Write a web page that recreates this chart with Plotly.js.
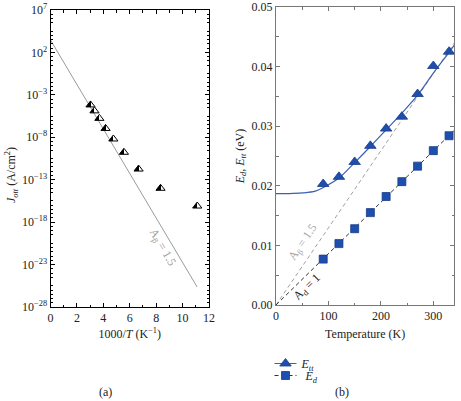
<!DOCTYPE html>
<html>
<head>
<meta charset="utf-8">
<script src="https://cdn.plot.ly/plotly-3.0.1.min.js"></script>
<style>html,body{margin:0;padding:0;background:#fff;}#chart{width:461px;height:401px;}</style>
</head>
<body>
<div id="chart"></div>
<script>
// ---- (a) data: 1000/T vs J_ott ----
const invT = [3.03, 3.33, 3.70, 4.17, 4.76, 5.56, 6.67, 8.33, 11.11];
const Jott = [6.5e-5, 1.3e-5, 1.7e-6, 1.1e-7, 6.3e-9, 1.7e-10, 1.8e-12, 9.8e-15, 7.9e-17];
const fitA_x = [0, 11.1];
const fitA_J = [2.9e3, 2.3e-26];
const logTickVals = [1e7, 1e2, 1e-3, 1e-8, 1e-13, 1e-18, 1e-23, 1e-28];
const logTickText = ['10<sup>7</sup>', '10<sup>2</sup>', '10<sup>−3</sup>', '10<sup>−8</sup>',
  '10<sup>−13</sup>', '10<sup>−18</sup>', '10<sup>−23</sup>', '10<sup>−28</sup>'];

// ---- (b) data: Temperature vs energies ----
const temps = [90, 120, 150, 180, 210, 240, 270, 300, 330];
const Ett = [0.0203, 0.0215, 0.0240, 0.0267, 0.0296, 0.0316, 0.0354, 0.0401, 0.0425];
const Ed = [0.0077, 0.0103, 0.0128, 0.0155, 0.0182, 0.0207, 0.0233, 0.0259, 0.0284];
const fitTT_T = [0, 25, 50, 75, 90, 120, 150, 180, 210, 240, 270, 300, 330, 340];
const fitTT_E = [0.0187, 0.0187, 0.0188, 0.0191, 0.0197, 0.0213, 0.0239, 0.0266, 0.0294, 0.0322, 0.0352, 0.0389, 0.0424, 0.0436];
const lineBeta_T = [0, 340];
const lineBeta_E = [0, 0.0440];
const lineD_T = [0, 340];
const lineD_E = [0, 0.0293];

const W = 461, H = 401;
const px = v => v / W;
const py = v => 1 - v / H;
const blue = '#1f4fae', blueEdge = '#163c86';
const serif = 'Liberation Serif';
const FS = 12;

// minor ticks for log axis every half decade (excluding majors)
const minorLog = [];
for (let k = -56; k <= 14; k++) { if (k % 10 !== 0) minorLog.push(Math.pow(10, k / 2)); }

const traces = [
  {x: fitA_x, y: fitA_J, xaxis: 'x', yaxis: 'y', mode: 'lines', line: {color: '#9a9a9a', width: 1}, showlegend: false},
  {x: invT, y: Jott, xaxis: 'x', yaxis: 'y', mode: 'markers', showlegend: false,
   marker: {symbol: 'triangle-up', size: 8, color: '#000', line: {color: '#000', width: 1}}},
  {x: lineBeta_T, y: lineBeta_E, xaxis: 'x2', yaxis: 'y2', mode: 'lines', line: {color: '#a0a0a0', width: 1, dash: '4px,3px'}, showlegend: false},
  {x: lineD_T, y: lineD_E, xaxis: 'x2', yaxis: 'y2', mode: 'lines', line: {color: '#333', width: 1, dash: '4px,3px'}, showlegend: false},
  {x: fitTT_T, y: fitTT_E, xaxis: 'x2', yaxis: 'y2', mode: 'lines', line: {color: '#3b5fb3', width: 1.2, shape: 'spline', smoothing: 1}, showlegend: false},
  {x: temps, y: Ett, xaxis: 'x2', yaxis: 'y2', mode: 'markers', showlegend: false,
   marker: {symbol: 'triangle-up', size: 10, color: blue, line: {color: blueEdge, width: 0.8}}},
  {x: temps, y: Ed, xaxis: 'x2', yaxis: 'y2', mode: 'markers', showlegend: false,
   marker: {symbol: 'square', size: 8, color: blue, line: {color: blueEdge, width: 0.8}}},
  // legend proxies
  {x: [null], y: [null], xaxis: 'x2', yaxis: 'y2', mode: 'lines+markers', name: '<i>E</i><sub><i>tt</i></sub>', legend: 'legend',
   line: {color: '#3b5fb3', width: 1.2}, marker: {symbol: 'triangle-up', size: 10, color: blue, line: {color: blueEdge, width: 0.8}}},
  {x: [null], y: [null], xaxis: 'x2', yaxis: 'y2', mode: 'lines+markers', name: '<i>E</i><sub><i>d</i></sub>', legend: 'legend2',
   line: {color: '#333', width: 1, dash: '4px,3px'}, marker: {symbol: 'square', size: 8, color: blue, line: {color: blueEdge, width: 0.8}}}
];

const axCommon = {showgrid: false, zeroline: false, showline: true, linewidth: 1, ticks: 'inside', mirror: 'allticks', ticklen: 4, tickwidth: 1,
  tickfont: {size: FS, family: serif, color: '#222'}};

const legCommon = {xanchor: 'left', yanchor: 'top', bgcolor: 'rgba(0,0,0,0)', font: {size: FS, family: serif, color: '#222'}};

const layout = {
  width: W, height: H,
  margin: {l: 0, r: 0, t: 0, b: 0},
  paper_bgcolor: '#fff', plot_bgcolor: '#fff',
  font: {family: serif, size: FS, color: '#222'},
  showlegend: true,
  legend: Object.assign({}, legCommon, {x: px(265.5), y: py(349)}),
  legend2: Object.assign({}, legCommon, {x: px(265.5), y: py(361)}),
  xaxis: Object.assign({}, axCommon, {
    domain: [px(50.5), px(209)], range: [0, 12], dtick: 2, tick0: 0, anchor: 'y',
    linecolor: '#000', tickcolor: '#000',
    minor: {dtick: 1, tick0: 0, ticks: 'inside', ticklen: 2.5, tickcolor: '#000', showgrid: false},
    title: {text: '1000/<i>T</i> (K<sup>−1</sup>)', font: {size: FS, family: serif}, standoff: 5}
  }),
  yaxis: Object.assign({}, axCommon, {
    type: 'log', domain: [py(307), py(10)], range: [-28, 7], anchor: 'x',
    tickmode: 'array', tickvals: logTickVals, ticktext: logTickText,
    linecolor: '#000', tickcolor: '#000',
    minor: {tickmode: 'array', tickvals: minorLog, ticks: 'inside', ticklen: 2.5, tickcolor: '#000', showgrid: false}
  }),
  xaxis2: Object.assign({}, axCommon, {
    domain: [px(276), px(454.3)], range: [0, 340], dtick: 100, tick0: 0, anchor: 'y2',
    linecolor: '#777', tickcolor: '#777',
    minor: {dtick: 50, tick0: 0, ticks: 'inside', ticklen: 2.5, tickcolor: '#777', showgrid: false},
    title: {text: 'Temperature (K)', font: {size: FS, family: serif}, standoff: 7}
  }),
  yaxis2: Object.assign({}, axCommon, {
    domain: [py(305), py(7)], range: [0, 0.05], dtick: 0.01, tick0: 0, tickformat: '.2f', anchor: 'x2',
    linecolor: '#777', tickcolor: '#777',
    minor: {dtick: 0.005, tick0: 0, ticks: 'inside', ticklen: 2.5, tickcolor: '#777', showgrid: false},
    title: {text: '<i>E</i><sub><i>d</i></sub>, <i>E</i><sub><i>tt</i></sub> (eV)', font: {size: FS, family: serif}, standoff: 4}
  }),
  annotations: [
    {xref: 'paper', yref: 'paper', x: px(11), y: py(175), xanchor: 'center', yanchor: 'middle', textangle: -90, showarrow: false,
     text: '<i>J</i><sub><i>ott</i></sub> (A/cm<sup>2</sup>)', font: {size: FS, family: serif}},
    {xref: 'x', yref: 'y', x: 8.44, y: -21.1, text: 'A<sub>β</sub> = 1.5', showarrow: false, textangle: 60,
     font: {size: FS, family: serif, color: '#a0a0a0'}},
    {xref: 'x2', yref: 'y2', x: 53, y: 0.0105, text: 'A<sub>β</sub> = 1.5', showarrow: false, textangle: -56,
     font: {size: FS, family: serif, color: '#a8a8a8'}},
    {xref: 'x2', yref: 'y2', x: 60, y: 0.0031, text: 'A<sub>d</sub> = 1', showarrow: false, textangle: -44,
     font: {size: FS, family: serif, color: '#222'}},
    {xref: 'paper', yref: 'paper', x: px(105), y: py(392), xanchor: 'center', yanchor: 'middle', text: '(a)', showarrow: false, font: {size: FS, family: serif}},
    {xref: 'paper', yref: 'paper', x: px(342), y: py(392), xanchor: 'center', yanchor: 'middle', text: '(b)', showarrow: false, font: {size: FS, family: serif}}
  ]
};

Plotly.newPlot('chart', traces, layout, {staticPlot: true}).then(gd => {
  const ns = 'http://www.w3.org/2000/svg';
  const svg = gd.querySelector('svg.main-svg');
  let defs = svg.querySelector('defs');
  if (!defs) { defs = document.createElementNS(ns, 'defs'); svg.insertBefore(defs, svg.firstChild); }
  const grad = document.createElementNS(ns, 'linearGradient');
  grad.setAttribute('id', 'halfTri');
  grad.setAttribute('x1', '0'); grad.setAttribute('x2', '1'); grad.setAttribute('y1', '0'); grad.setAttribute('y2', '0');
  [['0', '#000'], ['0.5', '#000'], ['0.5', '#fff'], ['1', '#fff']].forEach(([o, c]) => {
    const s = document.createElementNS(ns, 'stop'); s.setAttribute('offset', o); s.setAttribute('stop-color', c); grad.appendChild(s);
  });
  defs.appendChild(grad);
  gd.querySelectorAll('.scatterlayer .trace').forEach(tg => {
    const d = tg.__data__;
    const idx = d && d[0] && d[0].trace ? d[0].trace.index : -1;
    if (idx === 1) tg.querySelectorAll('path.point').forEach(p => { p.style.fill = 'url(#halfTri)'; });
  });
  // shorter legend lines
  gd.querySelectorAll('.legendlines path').forEach(p => { p.setAttribute('d', 'M9,0h22'); });
  gd.querySelectorAll('.legendtext').forEach(t => { t.setAttribute('x', '36'); });
});
</script>
</body>
</html>
